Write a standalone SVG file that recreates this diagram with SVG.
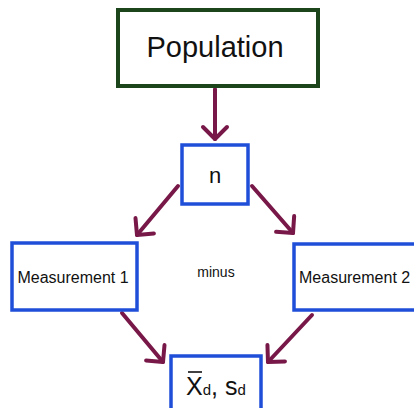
<svg xmlns="http://www.w3.org/2000/svg" width="414" height="408" viewBox="0 0 414 408">
<style>
.box{fill:#ffffff;stroke:#1f4fd8;stroke-width:3.5}
.pop{fill:#ffffff;stroke:#1c451c;stroke-width:4}
.t{font-family:"Liberation Sans",Arial,sans-serif;fill:#111111}
.c{fill:none;stroke:#781848;stroke-width:4;stroke-linecap:round}
</style>
<defs>
<marker id="ah" markerUnits="userSpaceOnUse" orient="auto" refX="0" refY="0" markerWidth="30" markerHeight="30" viewBox="-20 -15 25 30" overflow="visible">
<path d="M-12,-12 L0,0 L-12,12" fill="none" stroke="#781848" stroke-width="4" stroke-linecap="round" stroke-linejoin="round"/>
</marker>
</defs>
<rect width="414" height="408" fill="#ffffff"/>
<g id="connectors">
<line class="c" x1="215" y1="89" x2="215" y2="139" marker-end="url(#ah)"/>
<line class="c" x1="178" y1="186" x2="137" y2="235" marker-end="url(#ah)"/>
<line class="c" x1="252" y1="186" x2="293" y2="233" marker-end="url(#ah)"/>
<line class="c" x1="122" y1="313" x2="163" y2="362" marker-end="url(#ah)"/>
<line class="c" x1="312" y1="315" x2="268" y2="362" marker-end="url(#ah)"/>
</g>
<g id="population">
<rect class="pop" x="118" y="10" width="200" height="76"/>
<text class="t" x="215" y="57" font-size="29" text-anchor="middle">Population</text>
</g>
<g id="n">
<rect class="box" x="182" y="145" width="66" height="59"/>
<text class="t" x="215" y="183" font-size="22" text-anchor="middle">n</text>
</g>
<g id="measurement1">
<rect class="box" x="12" y="243" width="125" height="67"/>
<text class="t" x="73" y="283" font-size="16" text-anchor="middle">Measurement 1</text>
</g>
<g id="measurement2">
<rect class="box" x="294" y="244" width="130" height="66"/>
<text class="t" x="299" y="283" font-size="16">Measurement 2</text>
</g>
<text id="minus" class="t" x="216" y="277" font-size="14" text-anchor="middle">minus</text>
<g id="result">
<rect class="box" x="171" y="356" width="90" height="60"/>
<line x1="188" y1="372" x2="202" y2="372" stroke="#111111" stroke-width="1.6"/>
<text class="t" x="186" y="395" font-size="25">X<tspan font-size="15">d</tspan>, <tspan>s</tspan><tspan font-size="15">d</tspan></text>
</g>
</svg>
